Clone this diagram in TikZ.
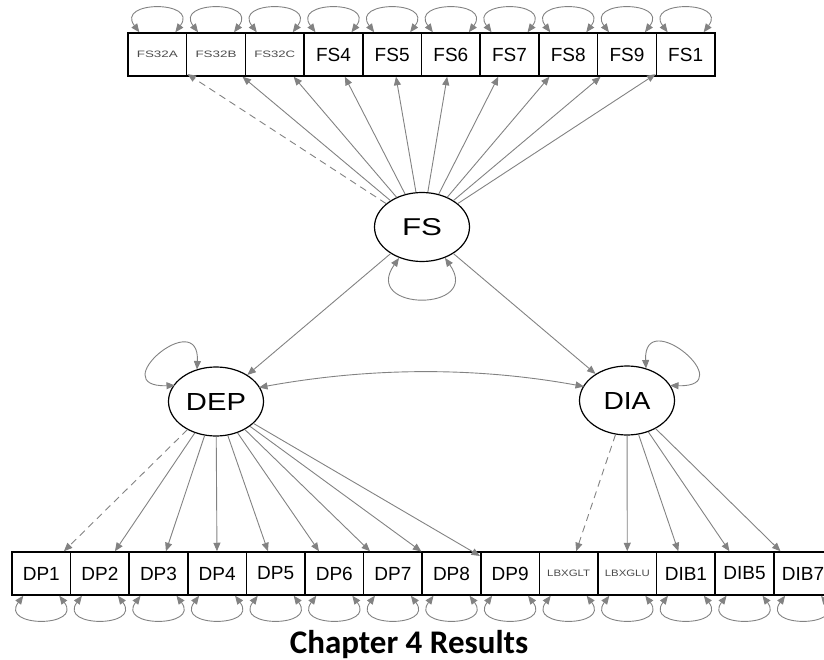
\documentclass[tikz,border=0pt]{standalone}
\usepackage{fontspec}
\setmainfont{Liberation Sans}
\newfontfamily\carl{Carlito}
\usepackage{graphicx}
\usetikzlibrary{arrows.meta,shapes.geometric,calc}
\definecolor{eg}{RGB}{130,130,130}
\newcommand\smlab[2]{\textcolor{black!70}{\resizebox{#1}{6.5pt}{#2}}}
\newcommand\latlab[2]{\resizebox{#1}{17pt}{#2}}
\begin{document}
\begin{tikzpicture}[x=1pt,y=-1pt,
  obs/.style={draw=black, line width=1.5pt, minimum width=58.7pt, minimum height=43pt, inner sep=0pt, font=\fontsize{19}{19}\selectfont},
  lat/.style={ellipse, draw=black, line width=1.2pt, minimum width=95pt, minimum height=69pt, inner sep=0pt},
  ld/.style={draw=eg, line width=0.9pt, -{Triangle[length=8.5pt,width=7pt]}},
  cv/.style={draw=eg, line width=0.9pt, {Triangle[length=8.5pt,width=7pt]}-{Triangle[length=8.5pt,width=7pt]}}]
\useasboundingbox (0,0) rectangle (824,660);
\clip (0,0) rectangle (824,660);
% top observed
\node[obs] (t1) at (157.35,54.5) {\smlab{41pt}{FS32A}};
\node[obs] (t2) at (216.05,54.5) {\smlab{41pt}{FS32B}};
\node[obs] (t3) at (274.75,54.5) {\smlab{41pt}{FS32C}};
\node[obs] (t4) at (333.45,54.5) {FS4};
\node[obs] (t5) at (392.15,54.5) {FS5};
\node[obs] (t6) at (450.85,54.5) {FS6};
\node[obs] (t7) at (509.55,54.5) {FS7};
\node[obs] (t8) at (568.25,54.5) {FS8};
\node[obs] (t9) at (626.95,54.5) {FS9};
\node[obs] (t10) at (685.65,54.5) {FS1};
% bottom observed
\node[obs] (b1) at (41.3,573.5) {DP1};
\node[obs] (b2) at (99.9,573.5) {DP2};
\node[obs] (b3) at (158.5,573.5) {DP3};
\node[obs] (b4) at (217.1,573.5) {DP4};
\node[obs] (b5) at (275.7,573.5) {DP5};
\node[obs] (b6) at (334.3,573.5) {DP6};
\node[obs] (b7) at (392.9,573.5) {DP7};
\node[obs] (b8) at (451.5,573.5) {DP8};
\node[obs] (b9) at (510.1,573.5) {DP9};
\node[obs] (b10) at (568.7,573.5) {\smlab{43pt}{LBXGLT}};
\node[obs] (b11) at (627.3,573.5) {\smlab{45pt}{LBXGLU}};
\node[obs] (b12) at (685.9,573.5) {DIB1};
\node[obs] (b13) at (744.5,573.5) {DIB5};
\node[obs] (b14) at (803.1,573.5) {DIB7};
% latents
\node[lat] (FS) at (422,227) {\latlab{40pt}{FS}};
\node[lat] (DEP) at (216,401.5) {\latlab{60pt}{DEP}};
\node[lat] (DIA) at (627,400.5) {\latlab{47pt}{DIA}};
% loadings
\draw[ld,dash pattern=on 7pt off 5pt] (FS) -- (t1);
\foreach \k in {2,...,10} \draw[ld] (FS) -- (t\k);
\draw[ld,dash pattern=on 7pt off 5pt] (DEP) -- (b1);
\foreach \k in {2,...,9} \draw[ld] (DEP) -- (b\k);
\draw[ld,dash pattern=on 7pt off 5pt] (DIA) -- (b10);
\foreach \k in {11,...,14} \draw[ld] (DIA) -- (b\k);
\draw[ld] (FS) -- (DEP);
\draw[ld] (FS) -- (DIA);
% covariance
\draw[cv] ($(DEP)+(43,-14)$) .. controls +(110,-20) and +(-110,-20) .. ($(DIA)+(-43,-14)$);
% variances
\foreach \k in {1,...,10} \draw[cv] ([xshift=-18pt]t\k.north) .. controls +(-24,-32) and +(24,-32) .. ([xshift=18pt]t\k.north);
\foreach \k in {1,...,14} \draw[cv] ([xshift=-18pt]b\k.south) .. controls +(-24,32) and +(24,32) .. ([xshift=18pt]b\k.south);
\draw[cv] ($(FS)+(-23,31)$) .. controls +(-38,54) and +(38,54) .. ($(FS)+(23,31)$);
\draw[cv] ($(DEP)+(-41,-16)$) .. controls +(-72,2) and +(3,-64) .. ($(DEP)+(-19,-32)$);
\draw[cv] ($(DIA)+(19,-32)$) .. controls +(-3,-64) and +(72,2) .. ($(DIA)+(43,-15)$);
% caption
\node[font=\carl\bfseries\fontsize{33}{33}\selectfont, anchor=base, inner sep=0pt] (title) at (409,653) {Chapter 4 Results};
\end{tikzpicture}
\end{document}
